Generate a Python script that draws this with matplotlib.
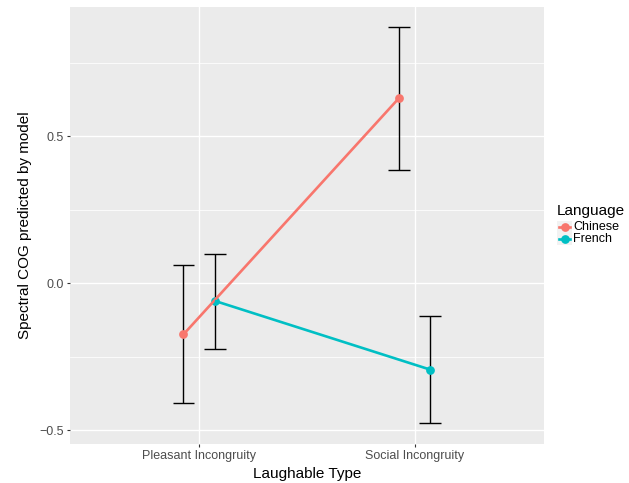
import matplotlib
matplotlib.use("Agg")
import matplotlib.pyplot as plt
from matplotlib.lines import Line2D
from matplotlib.patches import Rectangle
import numpy as np

plt.rcParams['font.family'] = ['Liberation Sans', 'DejaVu Sans']

# ---- data ----
categories = ["Pleasant Incongruity", "Social Incongruity"]
languages = ["Chinese", "French"]
chinese_mean = [-0.174, 0.630]
chinese_lower = [-0.409, 0.387]
chinese_upper = [0.062, 0.874]
french_mean = [-0.060, -0.294]
french_lower = [-0.223, -0.477]
french_upper = [0.100, -0.110]
colors = {"Chinese": "#F8766D", "French": "#00BFC4"}

series = {
    "Chinese": (chinese_mean, chinese_lower, chinese_upper),
    "French": (french_mean, french_lower, french_upper),
}
dodge = {"Chinese": -0.073, "French": 0.073}

W, H = 629, 483
fig = plt.figure(figsize=(W / 100, H / 100), dpi=100)
ax = fig.add_axes([70 / W, 1 - 443.5 / H, (543.7 - 70) / W, (443.5 - 7) / H])
ax.set_facecolor("#EBEBEB")
for s in ax.spines.values():
    s.set_visible(False)

base = np.arange(1, len(categories) + 1)

# grid
ax.set_yticks([-0.5, 0.0, 0.5])
ax.set_yticks([-0.25, 0.25, 0.75], minor=True)
ax.set_xticks(base)
ax.set_xticklabels(categories)
ax.set_yticklabels(["\u22120.5", "0.0", "0.5"])
ax.grid(True, which="major", color="white", lw=1.0, zorder=0)
ax.grid(True, which="minor", axis="y", color="white", lw=0.55, zorder=0)
ax.set_axisbelow(True)

for lang in languages:
    m, lo, up = series[lang]
    x = base + dodge[lang]
    lo = np.array(lo); up = np.array(up)
    ax.vlines(x, lo, up, color="black", lw=1.0, zorder=2)
    ax.hlines(lo, x - 0.05, x + 0.05, color="black", lw=1.0, zorder=2)
    ax.hlines(up, x - 0.05, x + 0.05, color="black", lw=1.0, zorder=2)

for lang in languages:
    m, lo, up = series[lang]
    x = base + dodge[lang]
    ax.plot(x, m, 'o', color=colors[lang], ms=6.3, mec='none', zorder=3)
for lang in languages:
    m, lo, up = series[lang]
    x = base + dodge[lang]
    ax.plot(x, m, '-', color=colors[lang], lw=1.9, zorder=4, solid_capstyle='butt')

ax.set_xlim(0.4, 2.6)
ax.set_ylim(-0.5456, 0.941)

ax.tick_params(axis="both", which="major", length=2.5, width=0.8, color="#333333",
               labelcolor="#4D4D4D", labelsize=9, pad=2)
ax.tick_params(axis="both", which="minor", length=0)

ax.set_xlabel("Laughable Type", fontsize=11, color="black", labelpad=4)
ax.set_ylabel("Spectral COG predicted by model", fontsize=11, color="black", labelpad=5)

# legend (manual, ggplot-like)
fig.text(557 / W, 1 - 211 / H, "Language", fontsize=11, ha="left", va="center")
key_y = {"Chinese": 227, "French": 239}
for lang in languages:
    yc = key_y[lang]
    fig.patches.append(Rectangle((557 / W, 1 - (yc + 6) / H), 15 / W, 12 / H,
                                 transform=fig.transFigure, facecolor="#F2F2F2",
                                 edgecolor="none"))
    fig.lines.append(Line2D([559 / W, 570 / W], [1 - yc / H, 1 - yc / H],
                            transform=fig.transFigure, color=colors[lang], lw=1.9))
    fig.lines.append(Line2D([564.5 / W], [1 - yc / H], transform=fig.transFigure,
                            marker='o', ms=6.3, color=colors[lang], mec='none'))
    fig.text(573 / W, 1 - yc / H, lang, fontsize=9, ha="left", va="center")

fig.savefig("out.png", dpi=100)
